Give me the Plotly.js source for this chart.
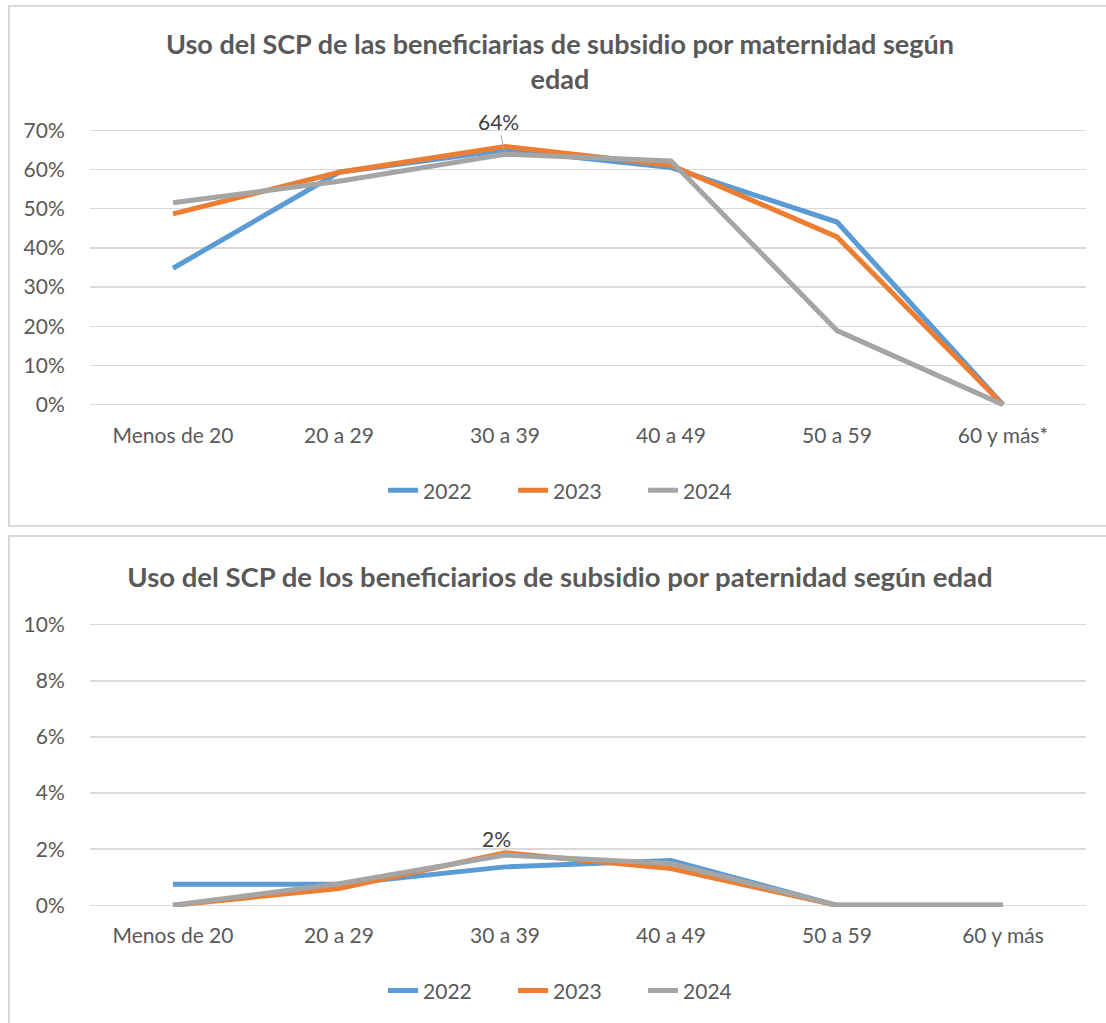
<!DOCTYPE html>
<html>
<head>
<meta charset="utf-8">
<script src="https://cdn.plot.ly/plotly-3.0.1.min.js"></script>
<style>
  html, body { margin: 0; padding: 0; background: #ffffff; overflow: hidden; }
  body { width: 1106px; height: 1023px; position: relative; }
  .box { position: absolute; border: 2px solid #d9d9d9; background: #fff; }
  #chartTop { left: 8px; top: 5px; width: 1100px; height: 518px; }
  #chartBottom { left: 8px; top: 535px; width: 1100px; height: 490px; }
</style>
</head>
<body>
<div id="chartTop" class="box"></div>
<div id="chartBottom" class="box"></div>
<script>
// ---- Data ----
const categoriesMat = ["Menos de 20", "20 a 29", "30 a 39", "40 a 49", "50 a 59", "60 y más*"];
const categoriesPat = ["Menos de 20", "20 a 29", "30 a 39", "40 a 49", "50 a 59", "60 y más"];
const seriesNames = ["2022", "2023", "2024"];

const mat2022 = [0.348, 0.593, 0.650, 0.605, 0.466, 0.0];
const mat2023 = [0.487, 0.593, 0.659, 0.611, 0.428, 0.0];
const mat2024 = [0.515, 0.570, 0.639, 0.622, 0.189, 0.0];

const pat2022 = [0.0075, 0.0075, 0.0137, 0.0160, 0.0, 0.0];
const pat2023 = [0.0, 0.0060, 0.0187, 0.0131, 0.0, 0.0];
const pat2024 = [0.0, 0.0077, 0.0179, 0.0149, 0.0, 0.0];

const matTicks = [0, 0.1, 0.2, 0.3, 0.4, 0.5, 0.6, 0.7];
const patTicks = [0, 0.02, 0.04, 0.06, 0.08, 0.10];

const matLabelIndex = 2; // data label shown on 2024 series, "30 a 39"
const patLabelIndex = 2;

// ---- Styles ----
const colors = ["#5B9BD5", "#ED7D31", "#A5A5A5"];
const FONT = "Lato, 'Open Sans', sans-serif";
const TXT = "#595959";

function pct(v) { return Math.round(v * 100) + "%"; }

function makeTraces(cats, arrs) {
  return arrs.map((arr, i) => ({
    type: "scatter",
    mode: "lines",
    x: cats,
    y: arr,
    name: seriesNames[i],
    line: { color: colors[i], width: 5 },
    hoverinfo: "skip"
  }));
}

function baseLayout(o) {
  return {
    width: 1100,
    height: o.height,
    margin: { l: 80, r: 24, t: o.t, b: o.b },
    paper_bgcolor: "#ffffff",
    plot_bgcolor: "#ffffff",
    font: { family: FONT, color: TXT, size: 21 },
    title: {
      text: o.title,
      font: { family: FONT, size: o.titleSize, color: TXT, weight: "bold" },
      x: 0.5, xanchor: "center",
      y: o.titleY, yanchor: "middle", yref: "container"
    },
    showlegend: true,
    legend: {
      orientation: "h",
      x: 0.49, xanchor: "center",
      y: o.legendY, yanchor: "middle",
      font: { family: FONT, size: 21, color: TXT },
      traceorder: "normal",
      entrywidth: 85,
      entrywidthmode: "pixels"
    },
    xaxis: {
      type: "category",
      range: [-0.5, o.nCats - 0.5],
      showgrid: false,
      zeroline: false,
      showline: false,
      ticks: "outside",
      ticklen: 10,
      tickcolor: "rgba(0,0,0,0)",
      tickfont: { family: FONT, size: 21, color: TXT },
      fixedrange: true
    },
    yaxis: {
      range: o.yRange,
      tickvals: o.ticks,
      ticktext: o.ticks.map(pct),
      showgrid: true,
      gridcolor: "#d9d9d9",
      gridwidth: 1.5,
      zeroline: false,
      showline: false,
      ticks: "outside",
      ticklen: 20,
      tickcolor: "rgba(0,0,0,0)",
      tickfont: { family: FONT, size: 21, color: TXT },
      fixedrange: true
    },
    annotations: o.annotations
  };
}

// ---- Top chart ----
const topLayout = baseLayout({
  height: 518,
  t: 121,
  b: 118,
  nCats: categoriesMat.length,
  title: "Uso del SCP de las beneficiarias de subsidio por maternidad según<br>edad",
  titleSize: 27,
  titleY: 0.91,
  legendY: -0.30,
  yRange: [-0.006, 0.706],
  ticks: matTicks,
  annotations: [{
    x: categoriesMat[matLabelIndex],
    y: mat2024[matLabelIndex],
    text: pct(mat2024[matLabelIndex]),
    showarrow: true,
    arrowhead: 0,
    arrowwidth: 1,
    arrowcolor: "#A5A5A5",
    ax: -7,
    ay: -33,
    standoff: 2,
    font: { family: FONT, size: 21, color: "#404040" }
  }]
});
Plotly.newPlot("chartTop", makeTraces(categoriesMat, [mat2022, mat2023, mat2024]), topLayout, { staticPlot: true });

// ---- Bottom chart ----
const bottomLayout = baseLayout({
  height: 490,
  t: 86,
  b: 120,
  nCats: categoriesPat.length,
  title: "Uso del SCP de los beneficiarios de subsidio por paternidad según edad",
  titleSize: 27.5,
  titleY: 0.918,
  legendY: -0.295,
  yRange: [-0.0006, 0.1006],
  ticks: patTicks,
  annotations: [{
    x: categoriesPat[patLabelIndex],
    y: pat2024[patLabelIndex],
    text: pct(pat2024[patLabelIndex]),
    showarrow: false,
    xshift: -9,
    yshift: 17,
    font: { family: FONT, size: 21, color: "#404040" }
  }]
});
Plotly.newPlot("chartBottom", makeTraces(categoriesPat, [pat2022, pat2023, pat2024]), bottomLayout, { staticPlot: true });
</script>
</body>
</html>
